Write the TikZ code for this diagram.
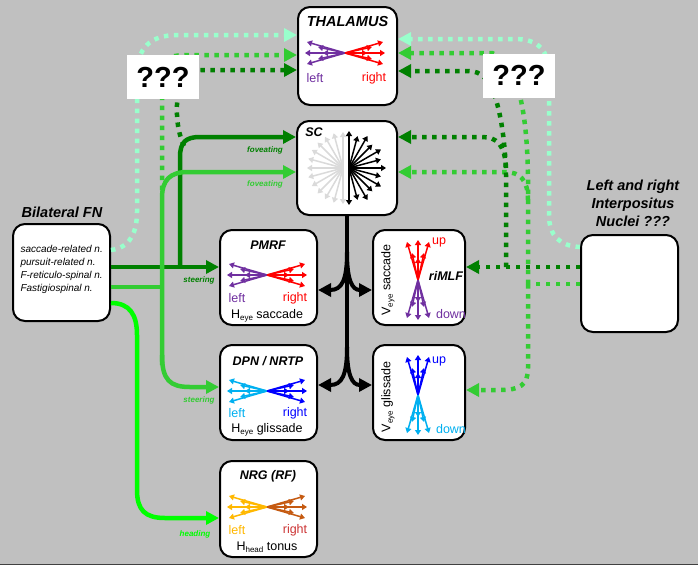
\documentclass[tikz,border=0pt]{standalone}
\usepackage{fontspec}
\setmainfont{Liberation Sans}
\usetikzlibrary{arrows.meta}
\definecolor{bg}{HTML}{C0C0C0}
\definecolor{aqua}{HTML}{99FFCC}
\definecolor{midg}{HTML}{33CC33}
\definecolor{darkg}{HTML}{008000}
\definecolor{brightg}{HTML}{00FF00}
\definecolor{purp}{HTML}{7030A0}
\definecolor{lblue}{HTML}{00B0F0}
\definecolor{dblue}{HTML}{0000FF}
\definecolor{gold}{HTML}{FFB800}
\definecolor{brwn}{HTML}{C55A11}
\definecolor{brred}{HTML}{CC3333}
\definecolor{scgray}{HTML}{DADADA}
\newcommand\lsub[1]{\raisebox{-2.5pt}{\fontsize{8}{8}\selectfont #1}}
\newcommand\hfan[4]{%
  \foreach \dx/\dy in {38/-11,27/-6,40/0,22/0,27/6,38/11}{%
    \draw[fan,#3] (#1,#2) -- ++(-\dx,\dy);
    \draw[fan,#4] (#1,#2) -- ++(\dx,\dy);}}
\newcommand\vfan[4]{%
  \foreach \dx/\dy in {38/-11,27/-6,40/0,22/0,27/6,38/11}{%
    \draw[fan,#3] (#1,#2) -- ++(\dy,-\dx);
    \draw[fan,#4] (#1,#2) -- ++(\dy,\dx);}}
\begin{document}
\begin{tikzpicture}[x=1pt,y=-1pt,
  box/.style={draw=black, line width=2pt, fill=white, rounded corners=12pt, inner sep=0pt},
  title/.style={font=\fontsize{12.5}{14}\selectfont\bfseries\itshape},
  lab/.style={font=\fontsize{12.5}{14}\selectfont},
  small/.style={font=\fontsize{8}{9}\selectfont\bfseries\itshape},
  fan/.style={line width=1.5pt, -{Triangle[length=5pt,width=6pt]}},
  tip/.style={-{Triangle[length=13pt,width=13pt]}},
  solidg/.style={line width=4.5pt},
  dots/.style={line width=4.5pt, dash pattern=on 4.5pt off 5.5pt},
  blk/.style={line width=4pt, black},
  qbox/.style={fill=white, inner sep=0pt, minimum width=72pt, minimum height=44pt, font=\fontsize{29}{30}\selectfont\bfseries}]
\useasboundingbox (0,0) rectangle (698,565);
\fill[bg] (0,0) rectangle (698,565);
\fill[black!75] (0,563.5) rectangle (698,565);

% boxes
\node[box, minimum width=99pt, minimum height=98pt] (thal) at (347.5,56) {};
\node[box, minimum width=100pt, minimum height=94pt] (sc) at (347,168) {};
\node[box, minimum width=97pt, minimum height=95pt] (pmrf) at (268.5,277.5) {};
\node[box, minimum width=92pt, minimum height=95pt] (rimlf) at (419,277.5) {};
\node[box, minimum width=97pt, minimum height=95pt] (dpn) at (268.5,392.5) {};
\node[box, minimum width=92pt, minimum height=95pt] (vgl) at (419,392.5) {};
\node[box, minimum width=97pt, minimum height=96pt] (nrg) at (268.5,509) {};
\node[box, minimum width=97pt, minimum height=97pt] (fn) at (61.5,272.5) {};
\node[box, minimum width=97pt, minimum height=97pt] (ip) at (629.5,283.5) {};

% dotted connectors, left
\draw[dots, aqua, tip] (fn.east |- 0,250) .. controls (130,248) and (137,232) .. (137,212) -- (137,75) .. controls (137,48) and (150,35) .. (178,35) -- (thal.west |- 0,35);
\draw[dots, midg, tip] (162,190) -- (162,72) .. controls (162,60) and (170,55) .. (185,55) -- (thal.west |- 0,55);
\draw[dots, darkg, tip] (184,146) .. controls (176,128) and (176,110) .. (178,92) .. controls (180,76) and (188,70) .. (202,70) -- (thal.west |- 0,70);

% dotted connectors, right
\coordinate (mj) at (528,284);
\coordinate (dj) at (506,267);
\draw[dots, aqua, tip] (ip.west |- 0,247) .. controls (560,246) and (549,236) .. (549,215) -- (549,75) .. controls (549,50) and (538,39) .. (515,39) -- (thal.east |- 0,39);
\draw[dots, midg] (ip.west |- 0,284) -- (mj);
\draw[dots, midg, tip] (mj) -- (528,175) .. controls (527,120) and (520,62) .. (492,53) -- (thal.east |- 0,53);
\draw[dots, midg, tip] (528,200) .. controls (528,180) and (520,172) .. (505,172) -- (sc.east |- 0,172);
\draw[dots, midg, tip] (mj) -- (528,368) .. controls (528,385) and (520,390) .. (500,390) -- (vgl.east |- 0,390);
\draw[dots, darkg, tip] (ip.west |- 0,267) -- (rimlf.east |- 0,267);
\draw[dots, darkg, tip] (dj) -- (506,175) .. controls (505,130) and (497,90) .. (485,78) .. controls (480,73) and (475,71) .. (468,71) -- (thal.east |- 0,71);
\draw[dots, darkg, tip] (506,168) .. controls (505,145) and (497,137) .. (482,137) -- (sc.east |- 0,137);

% ??? boxes
\node[qbox] (q1) at (163,77) {???};
\node[qbox] (q2) at (519,75.5) {???};

% solid connectors
\coordinate (dgv) at (180,267);
\draw[solidg, darkg, tip] (fn.east |- 0,267) -- (pmrf.west |- 0,267);
\draw[solidg, darkg, tip] (dgv) -- (180,157) .. controls (180,142) and (186,137) .. (200,137) -- (sc.west |- 0,137);
\draw[solidg, midg] (fn.east |- 0,287) -- (162,287);
\draw[solidg, midg, tip] (162,365) -- (162,198) .. controls (162,180) and (170,172) .. (188,172) -- (sc.west |- 0,172);
\draw[solidg, midg, tip] (162,355) .. controls (162,380) and (170,387) .. (190,387) -- (dpn.west |- 0,387);
\draw[solidg, brightg, tip] (fn.east |- 0,303) .. controls (130,303) and (137,315) .. (137,335) -- (137,490) .. controls (137,510) and (145,518) .. (165,518) -- (nrg.west |- 0,518);

% black fork
\draw[blk] (sc.south) -- (347,355);
\draw[blk, tip] (347,252) .. controls (347,280) and (342,290) .. (pmrf.east |- 0,290);
\draw[blk, tip] (347,252) .. controls (347,280) and (352,290) .. (rimlf.west |- 0,290);
\draw[blk, tip] (347,347) .. controls (347,375) and (342,385) .. (dpn.east |- 0,385);
\draw[blk, tip] (347,347) .. controls (347,375) and (352,385) .. (vgl.west |- 0,385);

% connector labels
\node[small, darkg] (fov1) at (265,150) {foveating};
\node[small, midg] (fov2) at (265,184) {foveating};
\node[small, darkg] (st1) at (199,280) {steering};
\node[small, midg] (st2) at (199,400) {steering};
\node[small, brightg] (hd) at (195,534) {heading};

% titles and outside labels
\node[font=\fontsize{14.5}{16}\selectfont\bfseries\itshape] (fnt) at (62,212) {Bilateral FN};
\node[align=left, anchor=west, font=\fontsize{10}{13.2}\selectfont\itshape] (fntext) at (17,269.5) {saccade-related n.\\pursuit-related n.\\F-reticulo-spinal n.\\Fastigiospinal n.};
\node[align=center, font=\fontsize{14.5}{18}\selectfont\bfseries\itshape] (ipt) at (633,203) {Left and right\\Interpositus\\Nuclei ???};

% THALAMUS
\node[font=\fontsize{14.5}{16}\selectfont\bfseries\itshape] (thalt) at (347.5,22) {THALAMUS};
\hfan{345}{53}{purp}{red}
\node[lab, purp] (thl) at (315,78) {left};
\node[lab, red] (thr) at (374,78) {right};

% SC
\node[title] (sct) at (314,132) {SC};
\foreach \a in {90,105,...,270} \draw[fan, scgray] (343,168) -- ++(\a:36);
\foreach \a/\r in {-90/37,-75/33,-60/37,-45/33,-30/37,-15/33,0/37,15/33,30/37,45/33,60/37,75/33,90/37} \draw[fan, black] (349,168) -- ++(\a:\r);

% PMRF
\node[title] (pmrft) at (268,245.5) {PMRF};
\hfan{267}{275}{purp}{red}
\node[lab, purp] (pml) at (237,298) {left};
\node[lab, red] (pmr) at (295,298) {right};
\node[lab] (pms) at (267,316) {H\lsub{eye} saccade};

% riMLF
\vfan{418}{280}{red}{purp}
\node[lab, red] (rup) at (439,242) {up};
\node[lab, purp] (rdn) at (451,314) {down};
\node[title] (rimlft) at (446,276) {riMLF};
\node[lab, rotate=90] (rvs) at (388,280) {V\lsub{eye} saccade};

% DPN / NRTP
\node[title] (dpnt) at (268,361.5) {DPN / NRTP};
\hfan{267}{391}{lblue}{dblue}
\node[lab, lblue] (dl) at (237,413) {left};
\node[lab, dblue] (dr) at (295,413) {right};
\node[lab] (dg) at (267,430) {H\lsub{eye} glissade};

% V glissade
\vfan{418}{395}{dblue}{lblue}
\node[lab, dblue] (gup) at (439,361) {up};
\node[lab, lblue] (gdn) at (451,429) {down};
\node[lab, rotate=90] (gvs) at (388,397) {V\lsub{eye} glissade};

% NRG
\node[title] (nrgt) at (268,476) {NRG (RF)};
\hfan{267}{507}{gold}{brwn}
\node[lab, gold] (nl) at (237,530) {left};
\node[lab, brred] (nr) at (295,530) {right};
\node[lab] (nt) at (267,547) {H\lsub{head} tonus};
\end{tikzpicture}
\end{document}
